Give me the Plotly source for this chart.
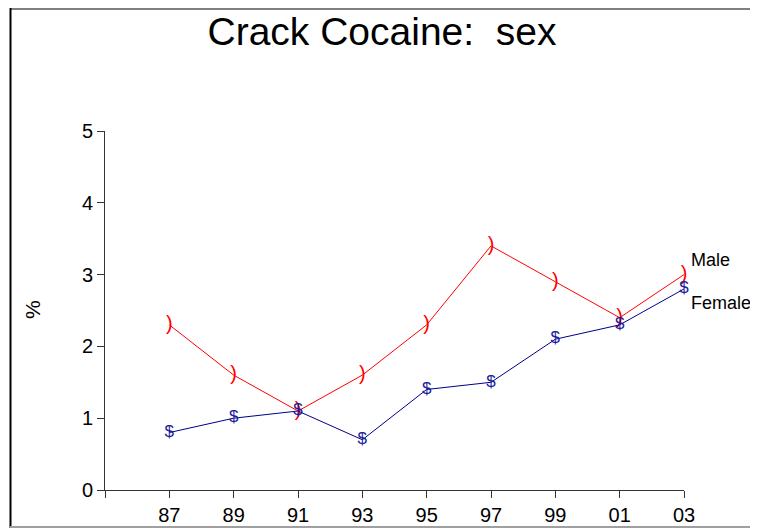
import plotly.graph_objects as go

years = [87, 89, 91, 93, 95, 97, 99, 101, 103]
tick_labels = ["87", "89", "91", "93", "95", "97", "99", "01", "03"]
male = [2.3, 1.6, 1.1, 1.6, 2.3, 3.4, 2.9, 2.4, 3.0]
female = [0.8, 1.0, 1.1, 0.7, 1.4, 1.5, 2.1, 2.3, 2.8]
series_names = ["Male", "Female"]

OFF = 8  # default page body margin
W, H = 758 - OFF, 528 - OFF
ML, MR, MT, MB = 105 - OFF, 74, 131 - OFF, 38
pw, ph = W - ML - MR, H - MT - MB

def px(X):
    return (X - OFF - ML) / pw

def py(Y):
    return (H - MB - (Y - OFF)) / ph

FONT = "Liberation Sans, Arial, sans-serif"
NARROW = "Liberation Sans Narrow, Arial Narrow, Liberation Sans, sans-serif"

fig = go.Figure()
fig.add_trace(go.Scatter(
    x=years, y=male, mode="lines+text", text=[")"] * len(years),
    textposition="middle center", line=dict(color="#ff0000", width=1),
    textfont=dict(color="#ff0000", size=20, family=FONT), name="Male",
    cliponaxis=False))
fig.add_trace(go.Scatter(
    x=years, y=female, mode="lines+text", text=["$"] * len(years),
    textposition="middle center", line=dict(color="#00008b", width=1),
    textfont=dict(color="#1c1c9c", size=17, family=FONT), name="Female",
    cliponaxis=False))

fig.add_annotation(x=years[-1], y=male[-1] + 0.2, xref="x", yref="y", text=series_names[0],
                   showarrow=False, xanchor="left", xshift=5,
                   font=dict(size=18, color="black", family=FONT))
fig.add_annotation(x=years[-1], y=female[-1] - 0.2, xref="x", yref="y", text=series_names[1],
                   showarrow=False, xanchor="left", xshift=5,
                   font=dict(size=18, color="black", family=FONT))

# y-axis title
fig.add_annotation(x=px(32), y=py(310), xref="paper", yref="paper", text="%", textangle=-90,
                   showarrow=False, xanchor="center", yanchor="middle",
                   font=dict(size=21, color="black", family=FONT))

# outer frame
fig.add_shape(type="line", xref="paper", yref="paper", x0=px(10), x1=px(758), y0=py(9), y1=py(9),
              line=dict(color="#808080", width=2))
fig.add_shape(type="line", xref="paper", yref="paper", x0=px(10.5), x1=px(10.5), y0=py(8), y1=py(528),
              line=dict(color="black", width=2))
fig.add_shape(type="line", xref="paper", yref="paper", x0=px(10), x1=px(758), y0=py(527), y1=py(527),
              line=dict(color="#a0a0a0", width=2))

fig.update_layout(
    width=W, height=H, margin=dict(l=ML, r=MR, t=MT, b=MB, pad=0, autoexpand=False),
    paper_bgcolor="white", plot_bgcolor="white", showlegend=False,
    title=dict(text="Crack Cocaine:  sex", x=px(382), xref="paper", xanchor="center",
               y=1 - (31 - OFF) / H, yanchor="middle", yref="container",
               font=dict(size=39, color="black", family=FONT)),
    font=dict(family=FONT, color="black"),
)
fig.update_xaxes(range=[85, 103], tickvals=[85] + years, ticktext=[""] + tick_labels,
                 automargin=False,
                 showgrid=False, zeroline=False, showline=True, linecolor="#333333", linewidth=1,
                 ticks="outside", ticklen=7, tickcolor="#333333", tickfont=dict(size=20, family=NARROW))
fig.update_yaxes(range=[0, 5], tickvals=[0, 1, 2, 3, 4, 5], showgrid=False, zeroline=False,
                 automargin=False,
                 showline=True, linecolor="#333333", linewidth=1, ticks="outside", ticklen=7,
                 tickcolor="#333333", tickfont=dict(size=20, family=NARROW))

fig.write_html("out.html")
